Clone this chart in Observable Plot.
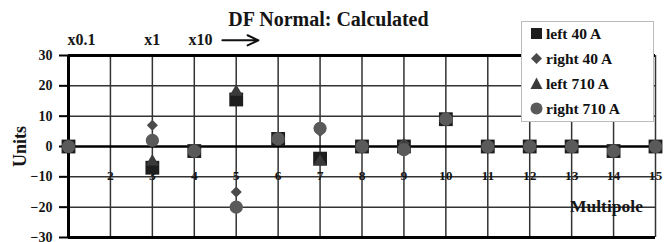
<!DOCTYPE html>
<html><head><meta charset="utf-8">
<script src="https://cdn.jsdelivr.net/npm/d3@7"></script>
<script src="https://cdn.jsdelivr.net/npm/@observablehq/plot@0.6"></script>
<style>
body{margin:0;background:#fff;}
#wrap{position:relative;width:667px;height:242px;font-family:"Liberation Serif","Times New Roman",serif;font-weight:bold;}
#chart svg text{font-family:"Liberation Serif","Times New Roman",serif !important;font-weight:bold;}
#legend{position:absolute;left:521px;top:21px;width:133px;height:101px;background:#fff;border:1px solid #bbb;box-sizing:border-box;font-size:15.5px;color:#111;}
#legend div{position:absolute;left:8px;white-space:nowrap;line-height:18px;}
#legend svg{vertical-align:-1px;margin-right:3px;}
</style></head>
<body><div id="wrap"><div id="chart"></div><div id="legend"></div></div>
<script>
const multipoles = [1, 3, 4, 5, 6, 7, 8, 9, 10, 11, 12, 13, 14, 15];
const left40   = [0, -7, -1.5, 15.5, 2.5, -4, 0, 0, 9, 0, 0, 0, -1.5, 0];
const right40  = [0, 7, -1.5, -15, 2.5, 5, 0, 1, 9, 0, 0, 0, -1.5, 0];
const left710  = [0, -5, -1.5, 18, 2.5, -5, 0, 0, 9, 0, 0, 0, -1.5, 0];
const right710 = [0, 2, -1.5, -20, 2.5, 6, 0, -1, 9, 0, 0, 0, -1.5, 0];
const seriesNames = ["left 40 A", "right 40 A", "left 710 A", "right 710 A"];
const seriesSymbols = ["square", "diamond2", "triangle2", "circle"];
const seriesColors = ["#1e1e1e", "#4a4a4a", "#3a3a3a", "#5a5a5a"];
const seriesRadius = [7.8, 5, 6.4, 6.6];
const xTickLabels = [2, 3, 4, 5, 6, 7, 8, 9, 10, 11, 12, 13, 14, 15];
const yTicks = [-30, -20, -10, 0, 10, 20, 30];
const gridX = [1, 2, 3, 4, 5, 6, 7, 8, 9, 10, 11, 12, 13, 14, 15];
const annotations = [
  {x: 1.31, y: 35, text: "x0.1"},
  {x: 3.0, y: 35, text: "x1"},
  {x: 4.15, y: 35, text: "x10"}
];

const allSeries = [left40, right40, left710, right710];
const font = '"Liberation Serif","Times New Roman",serif';
const txt = {fontWeight: "bold", fill: "#151515"};

const dotMarks = allSeries.map((vals, si) =>
  Plot.dot(vals.map((v, i) => ({m: multipoles[i], v})), {
    x: "m", y: "v", symbol: () => seriesSymbols[si], r: seriesRadius[si],
    fill: seriesColors[si], stroke: "none"
  })
);

const chart = Plot.plot({
  width: 667, height: 242,
  marginLeft: 68, marginRight: 12, marginTop: 55, marginBottom: 5,
  style: {background: "#fff", color: "#111"},
  x: {type: "linear", domain: [1, 15], axis: null},
  y: {type: "linear", domain: [-30, 30], axis: null},
  symbol: {type: "identity"},
  marks: [
    Plot.ruleY(yTicks.filter(t => Math.abs(t) !== 30 && t !== 0), {stroke: "#333", strokeWidth: 1.5}),
    Plot.ruleX(gridX, {stroke: "#333", strokeWidth: 1.5}),
    Plot.ruleY([0], {stroke: "#000", strokeWidth: 2.5}),
    Plot.ruleY([30, -30], {stroke: "#000", strokeWidth: 3}),
    Plot.ruleX([1], {stroke: "#000", strokeWidth: 3}),
    Plot.axisY(yTicks, {anchor: "left", tickSize: 9, tickPadding: 7, strokeWidth: 2, stroke: "#000", fontSize: 14, ...txt, label: null}),
    Plot.text(xTickLabels, {x: d => d, y: -10, text: d => String(d), fontSize: 13.5, ...txt, dy: -1}),
    ...dotMarks,
    Plot.text(annotations, {x: "x", y: "y", text: "text", fontSize: 16, ...txt}),
    Plot.arrow([{x1: 4.67, x2: 5.53, y: 35}], {x1: "x1", x2: "x2", y1: "y", y2: "y", stroke: "#111", strokeWidth: 2, headLength: 10, headAngle: 50}),
    Plot.text(["DF Normal: Calculated"], {x: 7.2, y: 41.7, text: d => d, fontSize: 20, ...txt}),
    Plot.text(["Multipole"], {x: 13.83, y: -19.8, text: d => d, fontSize: 17.5, ...txt}),
    Plot.text(["Units"], {x: 1, y: 0, text: d => d, rotate: -90, dx: -48, fontSize: 18, ...txt})
  ]
});
d3.select(chart).selectAll("text").style("font-family", font);
document.getElementById("chart").appendChild(chart);

const legend = document.getElementById("legend");
const shapes = {
  square: '<rect x="1" y="1" width="11" height="11"/>',
  diamond2: '<path d="M6.5 1L12 6.5L6.5 12L1 6.5Z"/>',
  triangle2: '<path d="M6.5 0.5L12.5 12L0.5 12Z"/>',
  circle: '<circle cx="6.5" cy="6.5" r="6"/>'
};
seriesNames.forEach((name, i) => {
  const row = document.createElement("div");
  row.style.top = (3 + i * 25) + "px";
  row.innerHTML = `<svg width="13" height="13" fill="${seriesColors[i]}">${shapes[seriesSymbols[i]]}</svg>${name}`;
  legend.appendChild(row);
});
</script></body></html>
